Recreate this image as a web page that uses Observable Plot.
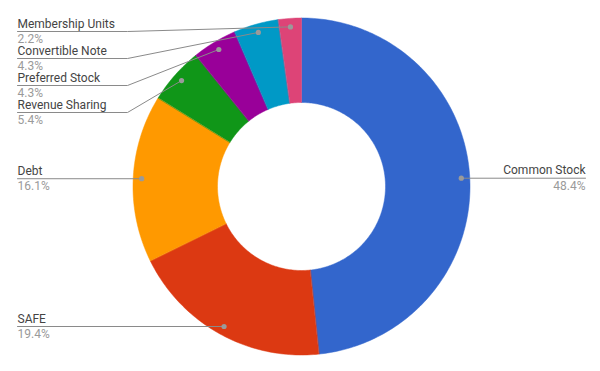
<!DOCTYPE html>
<html>
<head>
<meta charset="utf-8">
<script src="https://cdn.jsdelivr.net/npm/d3@7"></script>
<script src="https://cdn.jsdelivr.net/npm/@observablehq/plot@0.6"></script>
<style>
  html, body { margin: 0; padding: 0; background: #fff; }
  #chart svg { display: block; }
</style>
</head>
<body>
<div id="chart"></div>
<script>
// ---- Data ----
const categories = ["Common Stock", "SAFE", "Debt", "Revenue Sharing", "Preferred Stock", "Convertible Note", "Membership Units"];
const values = [48.4, 19.4, 16.1, 5.4, 4.3, 4.3, 2.2];
const percentLabels = ["48.4%", "19.4%", "16.1%", "5.4%", "4.3%", "4.3%", "2.2%"];
const colors = ["#3366cc", "#dc3912", "#ff9900", "#109618", "#990099", "#0099c6", "#dd4477"];

// ---- Layout ----
const W = 600, H = 371;
const cx = 301, cy = 186;          // pixel centre of the donut
const outerR = 168.5, innerR = 84;
const dotR = 160;                   // radius of label anchor dots
const leftTextX = -cx + 17;         // left label start (in centred coords)
const rightTextX = 585 - cx;        // right label end
const elbowX = 127 - cx;            // elbow of displaced leader lines
const minTop = 31 - cy, spacing = 27;

const total = d3.sum(values);
const pie = d3.pie().sort(null).value(d => d)(values);

function pt(r, a) { return {x: r * Math.sin(a), y: -r * Math.cos(a)}; }

// slice polygons
const slices = pie.map((p, i) => {
  const n = Math.max(4, Math.ceil((p.endAngle - p.startAngle) / (Math.PI / 180)));
  const pts = [];
  for (let k = 0; k <= n; k++) pts.push(pt(outerR, p.startAngle + (p.endAngle - p.startAngle) * k / n));
  for (let k = n; k >= 0; k--) pts.push(pt(innerR, p.startAngle + (p.endAngle - p.startAngle) * k / n));
  return {cat: categories[i], color: colors[i], pts};
});

// label anchors
const labels = pie.map((p, i) => {
  const mid = (p.startAngle + p.endAngle) / 2;
  const d = pt(dotR, mid);
  return {i, cat: categories[i], pct: percentLabels[i], dot: d, side: d.x >= 0 ? "right" : "left", ly: d.y};
});
// resolve left-side collisions top-down
const left = labels.filter(l => l.side === "left").sort((a, b) => a.dot.y - b.dot.y);
let prev = -Infinity;
for (const l of left) {
  l.ly = Math.max(l.dot.y, minTop, prev + spacing);
  prev = l.ly;
}
const leaders = labels.map(l => {
  const endX = l.side === "left" ? leftTextX : rightTextX;
  const path = [l.dot];
  if (Math.abs(l.ly - l.dot.y) > 0.5) path.push({x: elbowX, y: l.ly});
  path.push({x: endX, y: l.ly});
  return {...l, endX, path};
});

const font = "Roboto, 'Open Sans', sans-serif";

const marks = [
  ...slices.map(s => Plot.line(s.pts, {x: "x", y: "y", fill: s.color, stroke: s.color, strokeWidth: 0.5, curve: "linear-closed"})),
  ...leaders.map(l => Plot.line(l.path, {x: "x", y: "y", stroke: "#8a8a8a", strokeWidth: 1})),
  Plot.dot(leaders, {x: d => d.dot.x, y: d => d.dot.y, r: 2.6, fill: "#9a9a9a", stroke: null}),
  Plot.text(leaders, {x: "endX", y: "ly", text: "cat", textAnchor: d => d.side === "left" ? "start" : "end",
    lineAnchor: "bottom", dy: -4, fontSize: 12, fill: "#444", fontFamily: font}),
  Plot.text(leaders, {x: "endX", y: "ly", text: "pct", textAnchor: d => d.side === "left" ? "start" : "end",
    lineAnchor: "top", dy: 3, fontSize: 12, fill: "#999", fontFamily: font})
];

// textAnchor can't be a channel; split by side
const textMarks = [];
for (const side of ["left", "right"]) {
  const data = leaders.filter(l => l.side === side);
  const anchor = side === "left" ? "start" : "end";
  textMarks.push(
    Plot.text(data, {x: "endX", y: "ly", text: "cat", textAnchor: anchor, lineAnchor: "bottom", dy: -4, fontSize: 12, fill: "#444", fontFamily: font}),
    Plot.text(data, {x: "endX", y: "ly", text: "pct", textAnchor: anchor, lineAnchor: "top", dy: 3, fontSize: 12, fill: "#9a9a9a", fontFamily: font})
  );
}

const chart = Plot.plot({
  width: W,
  height: H,
  margin: 0,
  x: {type: "linear", domain: [-cx, W - cx], range: [0, W], axis: null},
  y: {type: "linear", domain: [-cy, H - cy], range: [0, H], axis: null},
  style: {background: "#fff", fontFamily: font},
  marks: [...marks.slice(0, marks.length - 2), ...textMarks]
});
document.getElementById("chart").append(chart);
</script>
</body>
</html>
